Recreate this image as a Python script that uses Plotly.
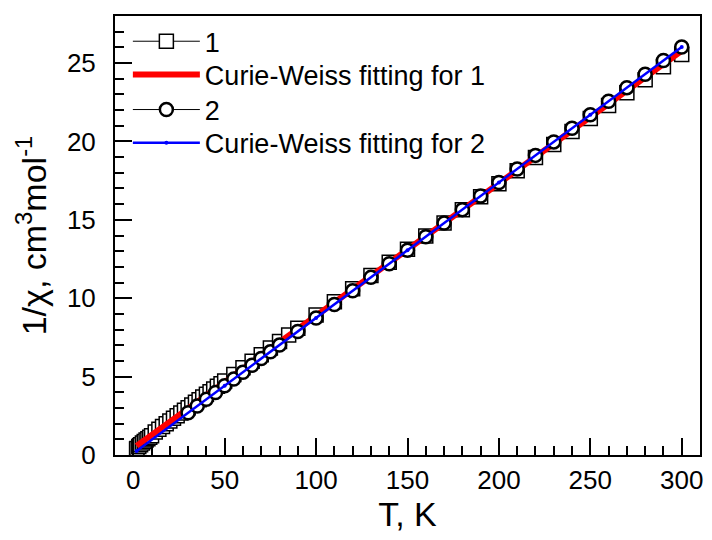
import plotly.graph_objects as go

# ---- data ----
T1 = [1.8, 2, 3, 4, 5, 6, 7, 8, 9, 10, 12, 14, 16, 18, 20, 22, 24, 26, 28, 30,
      32, 34, 36, 38, 40, 42, 44, 46, 48, 50, 55, 60, 65, 70, 75, 80, 85, 90,
      100, 110, 120, 130, 140, 150, 160, 170, 180, 190, 200, 210, 220, 230,
      240, 250, 260, 270, 280, 290, 300]
chi1 = [0.38, 0.42, 0.55, 0.66, 0.76, 0.86, 0.95, 1.04, 1.13, 1.22, 1.47, 1.65,
        1.82, 2.00, 2.17, 2.34, 2.51, 2.68, 2.85, 3.02, 3.19, 3.36, 3.53, 3.70,
        3.87, 4.04, 4.21, 4.38, 4.55, 4.72, 5.14, 5.56, 5.98, 6.40, 6.82, 7.24,
        7.66, 8.08, 8.93, 9.77, 10.61, 11.45, 12.29, 13.13, 13.97, 14.80, 15.64,
        16.47, 17.30, 18.13, 18.97, 19.80, 20.63, 21.46, 22.29, 23.10, 23.93,
        24.76, 25.55]

T2 = [30, 35, 40, 45, 50, 55, 60, 65, 70, 75, 80, 90, 100, 110, 120, 130, 140,
      150, 160, 170, 180, 190, 200, 210, 220, 230, 240, 250, 260, 270, 280,
      290, 300]
chi2 = [2.69, 3.12, 3.56, 3.99, 4.42, 4.85, 5.28, 5.72, 6.15, 6.58, 7.01, 7.88,
        8.74, 9.60, 10.47, 11.33, 12.20, 13.06, 13.92, 14.79, 15.65, 16.52,
        17.38, 18.24, 19.11, 19.97, 20.84, 21.70, 22.56, 23.43, 24.29, 25.16,
        26.02]

Tfit = [1.8, 50, 100, 150, 200, 250, 300]
fit1 = [0.58, 4.66, 8.88, 13.11, 17.33, 21.56, 25.78]
fit2 = [0.26, 4.42, 8.74, 13.06, 17.38, 21.70, 26.02]

names = ["1", "Curie-Weiss fitting for 1", "2", "Curie-Weiss fitting for 2"]
xticks = [0, 50, 100, 150, 200, 250, 300]
yticks = [0, 5, 10, 15, 20, 25]

FONT = "Arial, Liberation Sans, sans-serif"

fig = go.Figure()
fig.add_trace(go.Scatter(
    x=T1, y=chi1, name=names[0], mode="lines+markers", legend="legend",
    line=dict(color="black", width=1),
    marker=dict(symbol="square", size=14, color="white",
                line=dict(color="black", width=1.5))))
fig.add_trace(go.Scatter(
    x=Tfit, y=fit1, name=names[1], mode="lines", legend="legend2",
    line=dict(color="#ff0000", width=6)))
fig.add_trace(go.Scatter(
    x=T2, y=chi2, name=names[2], mode="lines+markers", legend="legend3",
    line=dict(color="black", width=1),
    marker=dict(symbol="circle", size=13, color="white",
                line=dict(color="black", width=2.5))))
fig.add_trace(go.Scatter(
    x=Tfit, y=fit2, name=names[3], mode="lines+markers", legend="legend4",
    line=dict(color="#0000ff", width=2.5),
    marker=dict(size=4, color="#0000ff")))

axis_common = dict(
    showgrid=False, zeroline=False, showline=True, linecolor="black",
    linewidth=2, mirror=True, ticks="inside", ticklen=17, tickwidth=1.5,
    tickcolor="black", tickfont=dict(family=FONT, size=26, color="black"),
)

fig.update_xaxes(
    **axis_common, range=[-10, 310], tickvals=xticks,
    ticktext=[str(v) for v in xticks],
    minor=dict(ticks="inside", ticklen=9, tickwidth=1.5, tickcolor="black",
               dtick=10, tick0=0, showgrid=False),
    title=dict(text="T, K", font=dict(family=FONT, size=34, color="black"),
               standoff=0),
    ticklabelstandoff=1,
)
fig.update_yaxes(
    **axis_common, range=[0, 28], tickvals=yticks,
    ticktext=[str(v) for v in yticks],
    minor=dict(ticks="inside", ticklen=9, tickwidth=1.5, tickcolor="black",
               dtick=1, tick0=0, showgrid=False),
    title=dict(text="1/χ, cm<sup>3</sup>mol<sup>-1</sup>",
               font=dict(family=FONT, size=34, color="black"), standoff=10),
    ticklabelstandoff=12,
)


def leg(yc):
    return dict(x=0.022, y=yc, xanchor="left", yanchor="middle",
                bgcolor="rgba(0,0,0,0)", borderwidth=0,
                font=dict(family=FONT, size=27, color="black"),
                itemwidth=67, tracegroupgap=0)


fig.update_layout(
    width=712, height=540,
    margin=dict(l=115, r=9, t=16, b=85),
    paper_bgcolor="white", plot_bgcolor="white",
    font=dict(family=FONT, color="black"),
    legend=leg(0.9415),
    legend2=leg(0.8656),
    legend3=leg(0.7859),
    legend4=leg(0.7100),
    showlegend=True,
)

fig.write_html("out.html")
